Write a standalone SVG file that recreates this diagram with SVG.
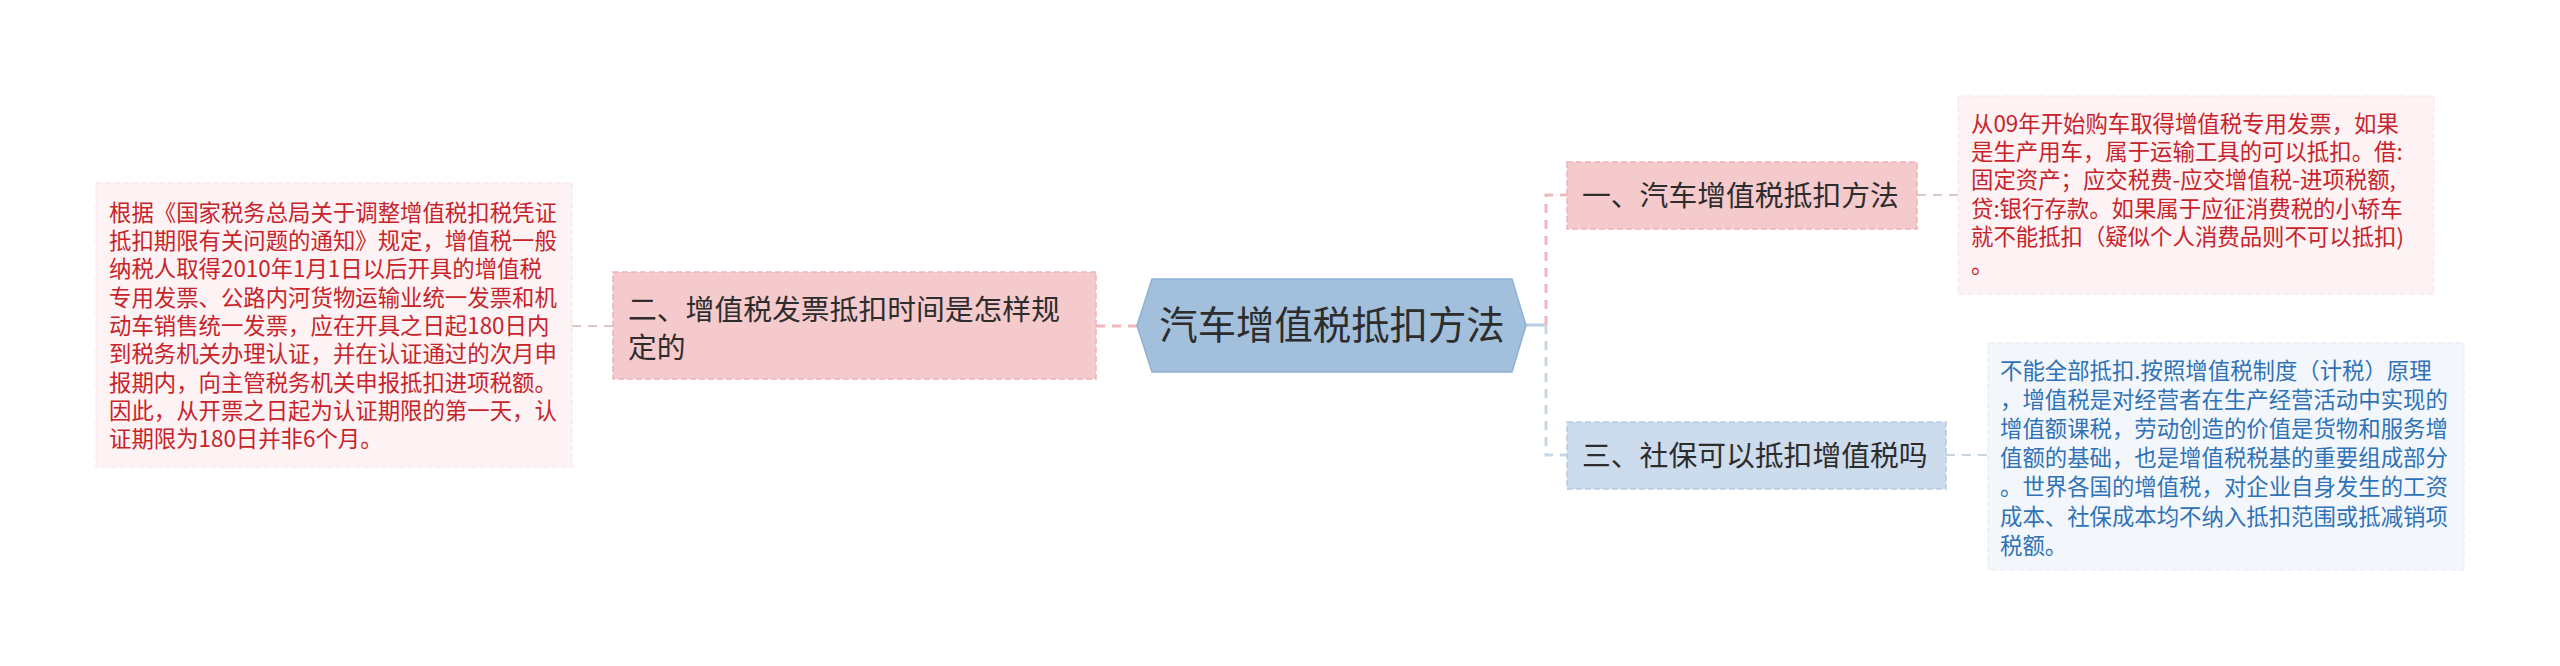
<svg xmlns="http://www.w3.org/2000/svg" width="2560" height="666" viewBox="0 0 2560 666">
<style>
text{font-family:"Noto Sans CJK SC","Noto Sans",sans-serif;}
.c{font-size:38.4px;fill:#2d2d2d;}
.n{font-size:28.8px;fill:#2d2d2d;}
.r{font-size:22.4px;fill:#c8232b;}
.b{font-size:22.4px;fill:#2f72b6;}
.pn{fill:#f5cacc;stroke:#ebb4b7;stroke-width:1.5;stroke-dasharray:6 3;}
.bn{fill:#cddced;stroke:#b7cbe1;stroke-width:1.5;stroke-dasharray:6 3;}
.pb{fill:#fdf3f4;stroke:#f6e4e5;stroke-width:1;stroke-dasharray:6 3;}
.bb{fill:#f3f7fc;stroke:#e3ebf5;stroke-width:1;stroke-dasharray:6 3;}
.lp{fill:none;stroke:#f0b8bb;stroke-width:3;stroke-dasharray:9 7;}
.lb{fill:none;stroke:#c8d7e8;stroke-width:3;stroke-dasharray:9 7;}
.lg{fill:none;stroke:#dcc6c8;stroke-width:2;stroke-dasharray:9 7;}
.lgb{fill:none;stroke:#c9d3de;stroke-width:2;stroke-dasharray:9 7;}
</style>
<rect width="2560" height="666" fill="#ffffff"/>
<g id="connectors">
<line class="lp" x1="1096" y1="326" x2="1137" y2="326"/>
<line class="lg" x1="572" y1="326" x2="613" y2="326"/>
<line x1="1526" y1="325" x2="1546" y2="325" stroke="#b8cde3" stroke-width="3"/>
<path class="lp" d="M1546 325 V195 H1567"/>
<path class="lb" d="M1546 325 V455 H1567"/>
<line class="lg" x1="1917" y1="195" x2="1958" y2="195"/>
<line class="lgb" x1="1946" y1="455" x2="1988" y2="455"/>
</g>
<g id="center">
<polygon points="1137,325.5 1152,279 1512,279 1526,325.5 1512,372 1152,372" fill="#a2bfdc" stroke="#8fb1d4" stroke-width="1.5"/>
<text class="c" x="1332" y="339" text-anchor="middle">汽车增值税抵扣方法</text>
</g>
<g id="node1">
<rect class="pn" x="1567" y="162" width="350" height="67"/>
<text class="n" x="1582" y="206">一、汽车增值税抵扣方法</text>
</g>
<g id="node2">
<rect class="pn" x="613" y="272" width="483" height="107"/>
<text class="n" x="628" y="320">二、增值税发票抵扣时间是怎样规</text>
<text class="n" x="628" y="358">定的</text>
</g>
<g id="node3">
<rect class="bn" x="1567" y="422" width="379" height="67"/>
<text class="n" x="1582" y="466">三、社保可以抵扣增值税吗</text>
</g>
<g id="note2">
<rect class="pb" x="96" y="183" width="476" height="284"/>
<text class="r" x="109" y="220.5">根据《国家税务总局关于调整增值税扣税凭证</text>
<text class="r" x="109" y="248.8">抵扣期限有关问题的通知》规定，增值税一般</text>
<text class="r" x="109" y="277.2">纳税人取得2010年1月1日以后开具的增值税</text>
<text class="r" x="109" y="305.5">专用发票、公路内河货物运输业统一发票和机</text>
<text class="r" x="109" y="333.8">动车销售统一发票，应在开具之日起180日内</text>
<text class="r" x="109" y="362.2">到税务机关办理认证，并在认证通过的次月申</text>
<text class="r" x="109" y="390.5">报期内，向主管税务机关申报抵扣进项税额。</text>
<text class="r" x="109" y="418.8">因此，从开票之日起为认证期限的第一天，认</text>
<text class="r" x="109" y="447.2">证期限为180日并非6个月。</text>
</g>
<g id="note1">
<rect class="pb" x="1958" y="96" width="476" height="198"/>
<text class="r" x="1971" y="131.5">从09年开始购车取得增值税专用发票，如果</text>
<text class="r" x="1971" y="159.8">是生产用车，属于运输工具的可以抵扣。借:</text>
<text class="r" x="1971" y="188.2">固定资产；应交税费-应交增值税-进项税额,</text>
<text class="r" x="1971" y="216.5">贷:银行存款。如果属于应征消费税的小轿车</text>
<text class="r" x="1971" y="244.8">就不能抵扣（疑似个人消费品则不可以抵扣)</text>
<text class="r" x="1971" y="273.2">。</text>
</g>
<g id="note3">
<rect class="bb" x="1988" y="343" width="476" height="227"/>
<text class="b" x="2000" y="378.5">不能全部抵扣.按照增值税制度（计税）原理</text>
<text class="b" x="2000" y="407.7">，增值税是对经营者在生产经营活动中实现的</text>
<text class="b" x="2000" y="436.9">增值额课税，劳动创造的价值是货物和服务增</text>
<text class="b" x="2000" y="466.1">值额的基础，也是增值税税基的重要组成部分</text>
<text class="b" x="2000" y="495.3">。世界各国的增值税，对企业自身发生的工资</text>
<text class="b" x="2000" y="524.5">成本、社保成本均不纳入抵扣范围或抵减销项</text>
<text class="b" x="2000" y="553.7">税额。</text>
</g>
</svg>
